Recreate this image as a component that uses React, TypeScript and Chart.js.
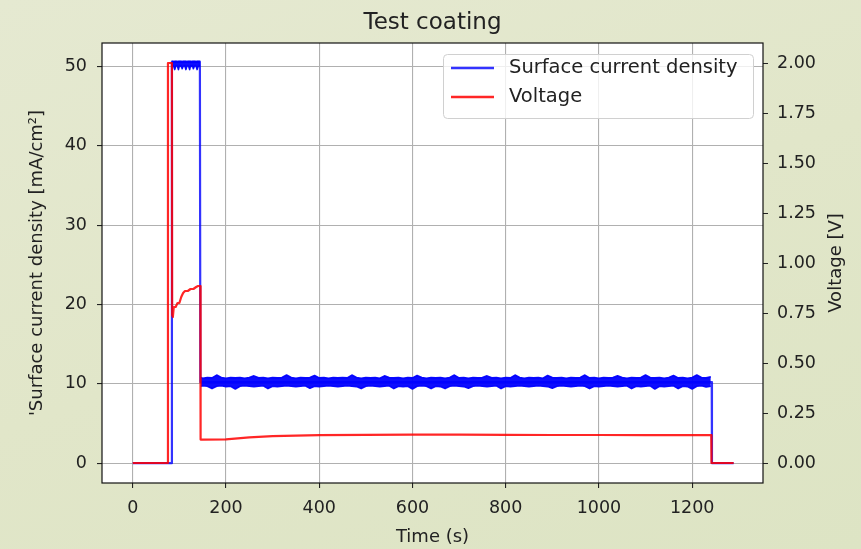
import { useEffect, useRef } from 'react';
import { Chart, registerables } from 'chart.js';

Chart.register(...registerables);

const TITLE = 'Test coating';
const X_LABEL = 'Time (s)';
const Y_LEFT_LABEL = "'Surface current density [mA/cm²]";
const Y_RIGHT_LABEL = 'Voltage [V]';
const SERIES_NAMES = ['Surface current density', 'Voltage'];

const X_TICKS = [0, 200, 400, 600, 800, 1000, 1200];
const LEFT_TICKS = [0, 10, 20, 30, 40, 50];
const RIGHT_TICKS = [0, 0.25, 0.5, 0.75, 1.0, 1.25, 1.5, 1.75, 2.0];

// Surface current density main trace (mA/cm²)
const currentTime = [0, 83.5, 84, 144, 145, 1242, 1242.5, 1289];
const currentValue = [0, 0, 50.6, 50.6, 10.2, 10.2, 0, 0];

// Noise band of the ~50 mA/cm² plateau (upper / lower envelope)
const plateauTime = [
  84, 86, 88, 90, 92, 94, 96, 98, 100, 102, 104, 106, 108, 110, 112, 114,
  116, 118, 120, 122, 124, 126, 128, 130, 132, 134, 136, 138, 140, 142, 144,
];
const plateauUpper = [
  50.6, 50.6, 50.55, 50.6, 50.6, 50.6, 50.55, 50.6, 50.6, 50.6, 50.6, 50.55, 50.6, 50.6, 50.6, 50.6,
  50.55, 50.6, 50.6, 50.6, 50.6, 50.55, 50.6, 50.6, 50.6, 50.6, 50.55, 50.6, 50.6, 50.6, 50.6,
];
const plateauLower = [
  50.0, 50.1, 50.0, 49.6, 50.0, 50.1, 50.0, 49.6, 50.1, 50.0, 50.1, 49.7, 50.0, 50.1, 50.0, 49.6,
  50.0, 50.1, 50.0, 49.6, 50.1, 50.0, 50.1, 49.7, 50.0, 50.1, 50.0, 49.6, 50.0, 50.1, 50.0,
];

// Noise band of the ~10 mA/cm² plateau (upper / lower envelope)
const bandTime = [
  146, 150, 160, 170, 180, 190, 200, 210, 220, 230, 240,
  250, 260, 270, 280, 290, 300, 310, 320, 330, 340,
  350, 360, 370, 380, 390, 400, 410, 420, 430, 440,
  450, 460, 470, 480, 490, 500, 510, 520, 530, 540,
  550, 560, 570, 580, 590, 600, 610, 620, 630, 640,
  650, 660, 670, 680, 690, 700, 710, 720, 730, 740,
  750, 760, 770, 780, 790, 800, 810, 820, 830, 840,
  850, 860, 870, 880, 890, 900, 910, 920, 930, 940,
  950, 960, 970, 980, 990, 1000, 1010, 1020, 1030, 1040,
  1050, 1060, 1070, 1080, 1090, 1100, 1110, 1120, 1130, 1140,
  1150, 1160, 1170, 1180, 1190, 1200, 1210, 1220, 1230, 1240,
];
const bandUpper = [
  10.8, 10.7, 10.8, 10.75, 11.1, 10.8, 10.7, 10.8, 10.75, 10.8, 10.7,
  10.8, 11.0, 10.75, 10.8, 10.7, 10.8, 10.75, 10.8, 11.1, 10.8,
  10.7, 10.8, 10.75, 10.8, 11.05, 10.75, 10.8, 10.7, 10.8, 10.75,
  10.8, 10.75, 11.1, 10.8, 10.7, 10.8, 10.75, 10.8, 10.7, 11.0,
  10.8, 10.75, 10.8, 10.7, 10.8, 10.75, 11.05, 10.8, 10.7, 10.8,
  10.75, 10.8, 10.7, 10.8, 11.1, 10.75, 10.8, 10.7, 10.8, 10.75,
  10.8, 11.0, 10.75, 10.8, 10.7, 10.8, 10.75, 11.1, 10.8, 10.7,
  10.8, 10.75, 10.8, 10.7, 11.05, 10.8, 10.75, 10.8, 10.7, 10.8,
  10.75, 10.8, 11.1, 10.75, 10.8, 10.7, 10.8, 10.75, 10.8, 11.0,
  10.8, 10.7, 10.8, 10.75, 10.8, 11.1, 10.8, 10.75, 10.8, 10.7,
  10.8, 11.05, 10.75, 10.8, 10.7, 10.8, 11.1, 10.8, 10.75, 10.9,
];
const bandLower = [
  9.7, 9.75, 9.7, 9.4, 9.7, 9.75, 9.65, 9.7, 9.35, 9.7, 9.75,
  9.7, 9.65, 9.7, 9.75, 9.4, 9.7, 9.65, 9.7, 9.75, 9.7,
  9.65, 9.7, 9.75, 9.45, 9.7, 9.65, 9.7, 9.75, 9.7, 9.65,
  9.7, 9.75, 9.7, 9.65, 9.4, 9.7, 9.75, 9.7, 9.65, 9.7,
  9.75, 9.4, 9.7, 9.65, 9.7, 9.35, 9.7, 9.75, 9.7, 9.4,
  9.7, 9.65, 9.4, 9.7, 9.75, 9.7, 9.65, 9.45, 9.7, 9.75,
  9.7, 9.65, 9.7, 9.75, 9.4, 9.7, 9.65, 9.7, 9.75, 9.7,
  9.65, 9.7, 9.75, 9.7, 9.65, 9.45, 9.7, 9.75, 9.7, 9.65,
  9.7, 9.75, 9.7, 9.4, 9.7, 9.65, 9.7, 9.75, 9.7, 9.65,
  9.7, 9.75, 9.4, 9.7, 9.65, 9.7, 9.75, 9.35, 9.7, 9.65,
  9.7, 9.75, 9.4, 9.7, 9.65, 9.35, 9.7, 9.75, 9.6, 9.7,
];

// Voltage (V)
const voltageTime = [
  0, 75, 75.5, 84, 84.5, 86, 88, 92, 96, 100,
  104, 108, 112, 118, 124, 130, 136, 140, 145, 145.5,
  150, 200, 250, 300, 350, 400, 500, 600, 700, 800,
  900, 1000, 1100, 1200, 1241, 1241.5, 1289,
];
const voltageValue = [
  0, 0, 2.0, 2.0, 0.74, 0.73, 0.78, 0.78, 0.80, 0.80,
  0.83, 0.85, 0.86, 0.86, 0.87, 0.87, 0.88, 0.885, 0.885, 0.117,
  0.117, 0.118, 0.128, 0.134, 0.137, 0.139, 0.141, 0.142, 0.142, 0.141,
  0.140, 0.140, 0.139, 0.139, 0.139, 0, 0,
];

const BLUE = 'rgba(0,0,255,0.8)';
const BAND = 'rgba(0,0,255,0.95)';
const RED = 'rgba(255,0,0,0.85)';
const FONT = "'DejaVu Sans', sans-serif";
const TEXT = '#222222';

const W = 861;
const H = 549;
const PLOT = { left: 102, right: 763, top: 43, bottom: 483 };

const toPts = (xs: number[], ys: number[]) => xs.map((x, i) => ({ x, y: ys[i] }));

const decorPlugin = {
  id: 'decor',
  beforeDraw(chart: any) {
    const { ctx, chartArea: a } = chart;
    ctx.save();
    ctx.fillStyle = '#ffffff';
    ctx.fillRect(a.left, a.top, a.right - a.left, a.bottom - a.top);
    ctx.restore();
  },
  afterDatasetsDraw(chart: any) {
    const { ctx, chartArea: a } = chart;
    ctx.save();
    ctx.strokeStyle = '#111111';
    ctx.lineWidth = 1.2;
    ctx.strokeRect(a.left, a.top, a.right - a.left, a.bottom - a.top);

    const lx = 443.5, ly = 54.5, lw = 310, lh = 64;
    ctx.beginPath();
    ctx.roundRect(lx, ly, lw, lh, 4);
    ctx.fillStyle = 'rgba(255,255,255,0.8)';
    ctx.fill();
    ctx.strokeStyle = '#d0d0d0';
    ctx.lineWidth = 1;
    ctx.stroke();
    const colors = [BLUE, RED];
    const rows = [68, 97];
    ctx.font = `19.5px ${FONT}`;
    ctx.textBaseline = 'middle';
    ctx.textAlign = 'left';
    SERIES_NAMES.forEach((name, i) => {
      ctx.beginPath();
      ctx.strokeStyle = colors[i];
      ctx.lineWidth = 2.4;
      ctx.moveTo(451, rows[i]);
      ctx.lineTo(494, rows[i]);
      ctx.stroke();
      ctx.fillStyle = TEXT;
      ctx.fillText(name, 509, rows[i]);
    });
    ctx.restore();
  },
  afterDraw(chart: any) {
    const { ctx, chartArea: a } = chart;
    const cx = (a.left + a.right) / 2;
    const cy = (a.top + a.bottom) / 2;
    ctx.save();
    ctx.fillStyle = TEXT;
    ctx.textAlign = 'center';
    ctx.font = `23px ${FONT}`;
    ctx.textBaseline = 'alphabetic';
    ctx.fillText(TITLE, cx, 29);

    ctx.font = `18px ${FONT}`;
    ctx.textBaseline = 'middle';
    ctx.fillText(X_LABEL, cx, 537);

    ctx.save();
    ctx.translate(37, cy);
    ctx.rotate(-Math.PI / 2);
    ctx.fillText(Y_LEFT_LABEL, 0, 0);
    ctx.restore();

    ctx.save();
    ctx.translate(836, cy);
    ctx.rotate(-Math.PI / 2);
    ctx.fillText(Y_RIGHT_LABEL, 0, 0);
    ctx.restore();
    ctx.restore();
  },
};

export default function App() {
  const ref = useRef<HTMLCanvasElement | null>(null);

  useEffect(() => {
    document.body.style.margin = '0';
    const canvas = ref.current;
    if (!canvas) return;
    const tickFont = { family: FONT, size: 17.5 };
    const lineCommon = {
      pointRadius: 0,
      tension: 0,
      borderJoinStyle: 'round',
      borderCapStyle: 'butt',
    };
    const envelope = (label: string, xs: number[], ys: number[], fill: any, order: number) => ({
      ...lineCommon,
      label,
      data: toPts(xs, ys),
      yAxisID: 'yL',
      borderColor: BAND,
      backgroundColor: BAND,
      borderWidth: 1.6,
      fill,
      order,
    });
    const chart = new Chart(canvas, {
      type: 'line',
      data: {
        datasets: [
          {
            ...lineCommon,
            label: SERIES_NAMES[1],
            data: toPts(voltageTime, voltageValue),
            yAxisID: 'yV',
            borderColor: RED,
            backgroundColor: RED,
            borderWidth: 2.2,
            fill: false,
            order: 0,
          },
          {
            ...lineCommon,
            label: SERIES_NAMES[0],
            data: toPts(currentTime, currentValue),
            yAxisID: 'yL',
            borderColor: BLUE,
            backgroundColor: BLUE,
            borderWidth: 2.2,
            fill: false,
            order: 1,
          },
          envelope('band-upper', bandTime, bandUpper, '+1', 2),
          envelope('band-lower', bandTime, bandLower, false, 3),
          envelope('plateau-upper', plateauTime, plateauUpper, '+1', 4),
          envelope('plateau-lower', plateauTime, plateauLower, false, 5),
        ],
      },
      options: {
        responsive: false,
        animation: false,
        devicePixelRatio: 1,
        parsing: false,
        normalized: true,
        layout: { padding: { top: PLOT.top, left: 0, right: 0, bottom: 0 } },
        plugins: {
          legend: { display: false },
          title: { display: false },
          tooltip: { enabled: false },
        },
        scales: {
          x: {
            type: 'linear',
            position: 'bottom',
            min: -66,
            max: 1352,
            afterFit: (s: any) => { s.height = H - PLOT.bottom; },
            afterBuildTicks: (s: any) => { s.ticks = X_TICKS.map((v) => ({ value: v })); },
            grid: { color: '#b0b0b0', lineWidth: 1.1, tickColor: '#222', tickLength: 5 },
            border: { display: false },
            ticks: {
              font: tickFont,
              color: TEXT,
              padding: 10,
              maxRotation: 0,
              autoSkip: false,
              callback: (v: any) => String(v),
            },
          },
          yL: {
            type: 'linear',
            position: 'left',
            min: -2.5,
            max: 52.95,
            afterFit: (s: any) => { s.width = PLOT.left; },
            afterBuildTicks: (s: any) => { s.ticks = LEFT_TICKS.map((v) => ({ value: v })); },
            grid: { color: '#b0b0b0', lineWidth: 1.1, tickColor: '#222', tickLength: 5 },
            border: { display: false },
            ticks: {
              font: tickFont,
              color: TEXT,
              padding: 10,
              autoSkip: false,
              callback: (v: any) => String(v),
            },
          },
          yV: {
            type: 'linear',
            position: 'right',
            min: -0.1,
            max: 2.1,
            afterFit: (s: any) => { s.width = W - PLOT.right; },
            afterBuildTicks: (s: any) => { s.ticks = RIGHT_TICKS.map((v) => ({ value: v })); },
            grid: { drawOnChartArea: false, tickColor: '#222', tickLength: 5 },
            border: { display: false },
            ticks: {
              font: tickFont,
              color: TEXT,
              padding: 9,
              autoSkip: false,
              callback: (v: any) => Number(v).toFixed(2),
            },
          },
        },
      } as any,
      plugins: [decorPlugin],
    });
    return () => chart.destroy();
  }, []);

  return (
    <div style={{ width: W, height: H, background: 'linear-gradient(160deg, #e5e9d1 0%, #e1e6c9 50%, #dde4c4 100%)' }}>
      <canvas ref={ref} width={W} height={H} style={{ display: 'block' }} />
    </div>
  );
}
